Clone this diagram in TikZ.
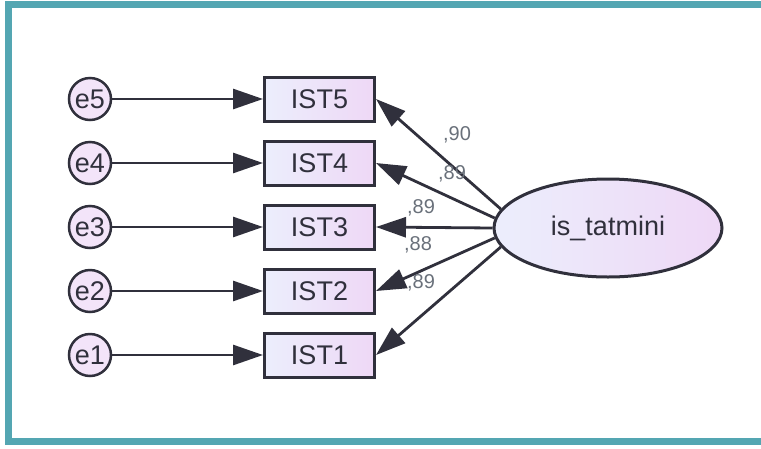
\documentclass[tikz,border=0pt]{standalone}
\usepackage{fontspec}
\setmainfont{Liberation Sans}
\usetikzlibrary{shapes.geometric, arrows.meta}
\definecolor{frameteal}{RGB}{84,166,178}
\definecolor{lightlav}{RGB}{236,238,252}
\definecolor{pinklav}{RGB}{238,216,246}
\definecolor{labgray}{RGB}{105,112,122}
\definecolor{inkgray}{RGB}{48,48,60}

\begin{document}
\begin{tikzpicture}[x=1pt,y=-1pt,
    errnode/.style={draw=inkgray, line width=2.5pt, circle, minimum size=42pt, inner sep=0pt, fill=pinklav!70, text=inkgray, font=\fontsize{27}{30}\selectfont},
    itembox/.style={draw=inkgray, line width=3pt, minimum width=110pt, minimum height=44pt, inner sep=0pt, left color=lightlav, right color=pinklav, text=inkgray, font=\fontsize{27}{30}\selectfont},
    latent/.style={draw=inkgray, line width=3pt, ellipse, minimum width=228pt, minimum height=98pt, inner sep=0pt, left color=lightlav, right color=pinklav, text=inkgray, font=\fontsize{27}{30}\selectfont},
    loadarrow/.style={draw=inkgray, line width=2.8pt, -{Triangle[length=30pt,width=20pt]}},
    wt/.style={text=labgray, font=\fontsize{20}{22}\selectfont}]

    \clip (0,0) rectangle (761,448);
    \draw[frameteal, line width=7pt] (8,4) rectangle (770,441);

    \node (sat) [latent] at (608,228) {is\_tatmini};

    \foreach \n [count=\k from 0] in {5,4,3,2,1} {
        \node (e\n) [errnode] at (90,99+64*\k) {e\n};
        \node (ist\n) [itembox] at (319.5,99+64*\k) {IST\n};
        \draw[loadarrow] (e\n) -- (ist\n);
    }
    \foreach \n in {1,...,5}
        \draw[loadarrow] (sat.{195-5*\n}) -- (ist\n.east);

    \node (w5) [wt] at (457,135) {,90};
    \node (w4) [wt] at (452,174) {,89};
    \node (w3) [wt] at (421,208) {,89};
    \node (w2) [wt] at (418,245) {,88};
    \node (w1) [wt] at (421,283) {,89};

\end{tikzpicture}
\end{document}
